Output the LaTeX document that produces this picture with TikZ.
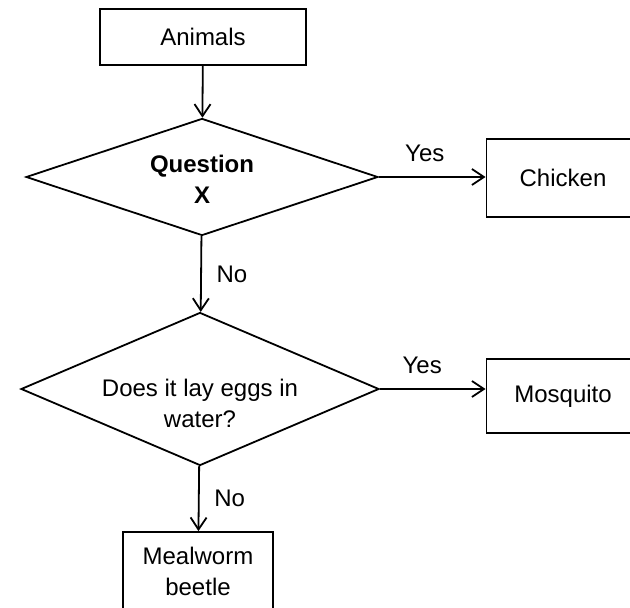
\documentclass[tikz,border=0pt]{standalone}
\usepackage{fontspec}
\setmainfont{Liberation Sans}
\usetikzlibrary{shapes.geometric,arrows.meta}

\begin{document}
\begin{tikzpicture}[x=0.5pt,y=-0.5pt, line width=0.9pt,
        every node/.style={font=\fontsize{12}{15.5}\selectfont},
        boxnode/.style={draw, rectangle, align=center, inner sep=0pt},
        decision/.style={draw, diamond, inner sep=0pt},
        arr/.style={-{Straight Barb[length=6pt,width=8pt]}},
        lbl/.style={inner sep=3.3pt}]
        \useasboundingbox (0,0) rectangle (630,608);
        \clip (0,0) rectangle (630,608);
        \node[boxnode, minimum width=103pt, minimum height=28pt] (animals) at (203,37) {Animals};
        \node[decision, minimum width=176pt, minimum height=58.5pt] (q1) at (202,177) {};
        \node[align=center, font=\fontsize{12}{15.5}\selectfont\bfseries] (q1text) at (202,179) {Question\\X};
        \node[boxnode, minimum width=76.5pt, minimum height=39pt] (chicken) at (563,178) {Chicken};
        \node[decision, minimum width=179pt, minimum height=76.5pt] (q2) at (200,389) {};
        \node[align=center] (q2text) at (200,403) {Does it lay eggs in\\water?};
        \node[boxnode, minimum width=76.5pt, minimum height=37pt] (mosquito) at (563,396) {Mosquito};
        \node[boxnode, minimum width=75pt, minimum height=39pt] (mealworm) at (198,571) {Mealworm\\beetle};
        \draw[arr] (animals) -- (q1);
        \draw[arr] (q1.east) -- node[lbl, above=4pt, pos=0.43] (yes1) {Yes} (q1.east -| chicken.west);
        \draw[arr] (q1) -- node[lbl, right=4pt] (no1) {No} (q2);
        \draw[arr] (q2.east) -- node[lbl, above=4pt, pos=0.4] (yes2) {Yes} (q2.east -| mosquito.west);
        \draw[arr] (q2) -- node[lbl, right=4pt] (no2) {No} (mealworm);
\end{tikzpicture}
\end{document}
